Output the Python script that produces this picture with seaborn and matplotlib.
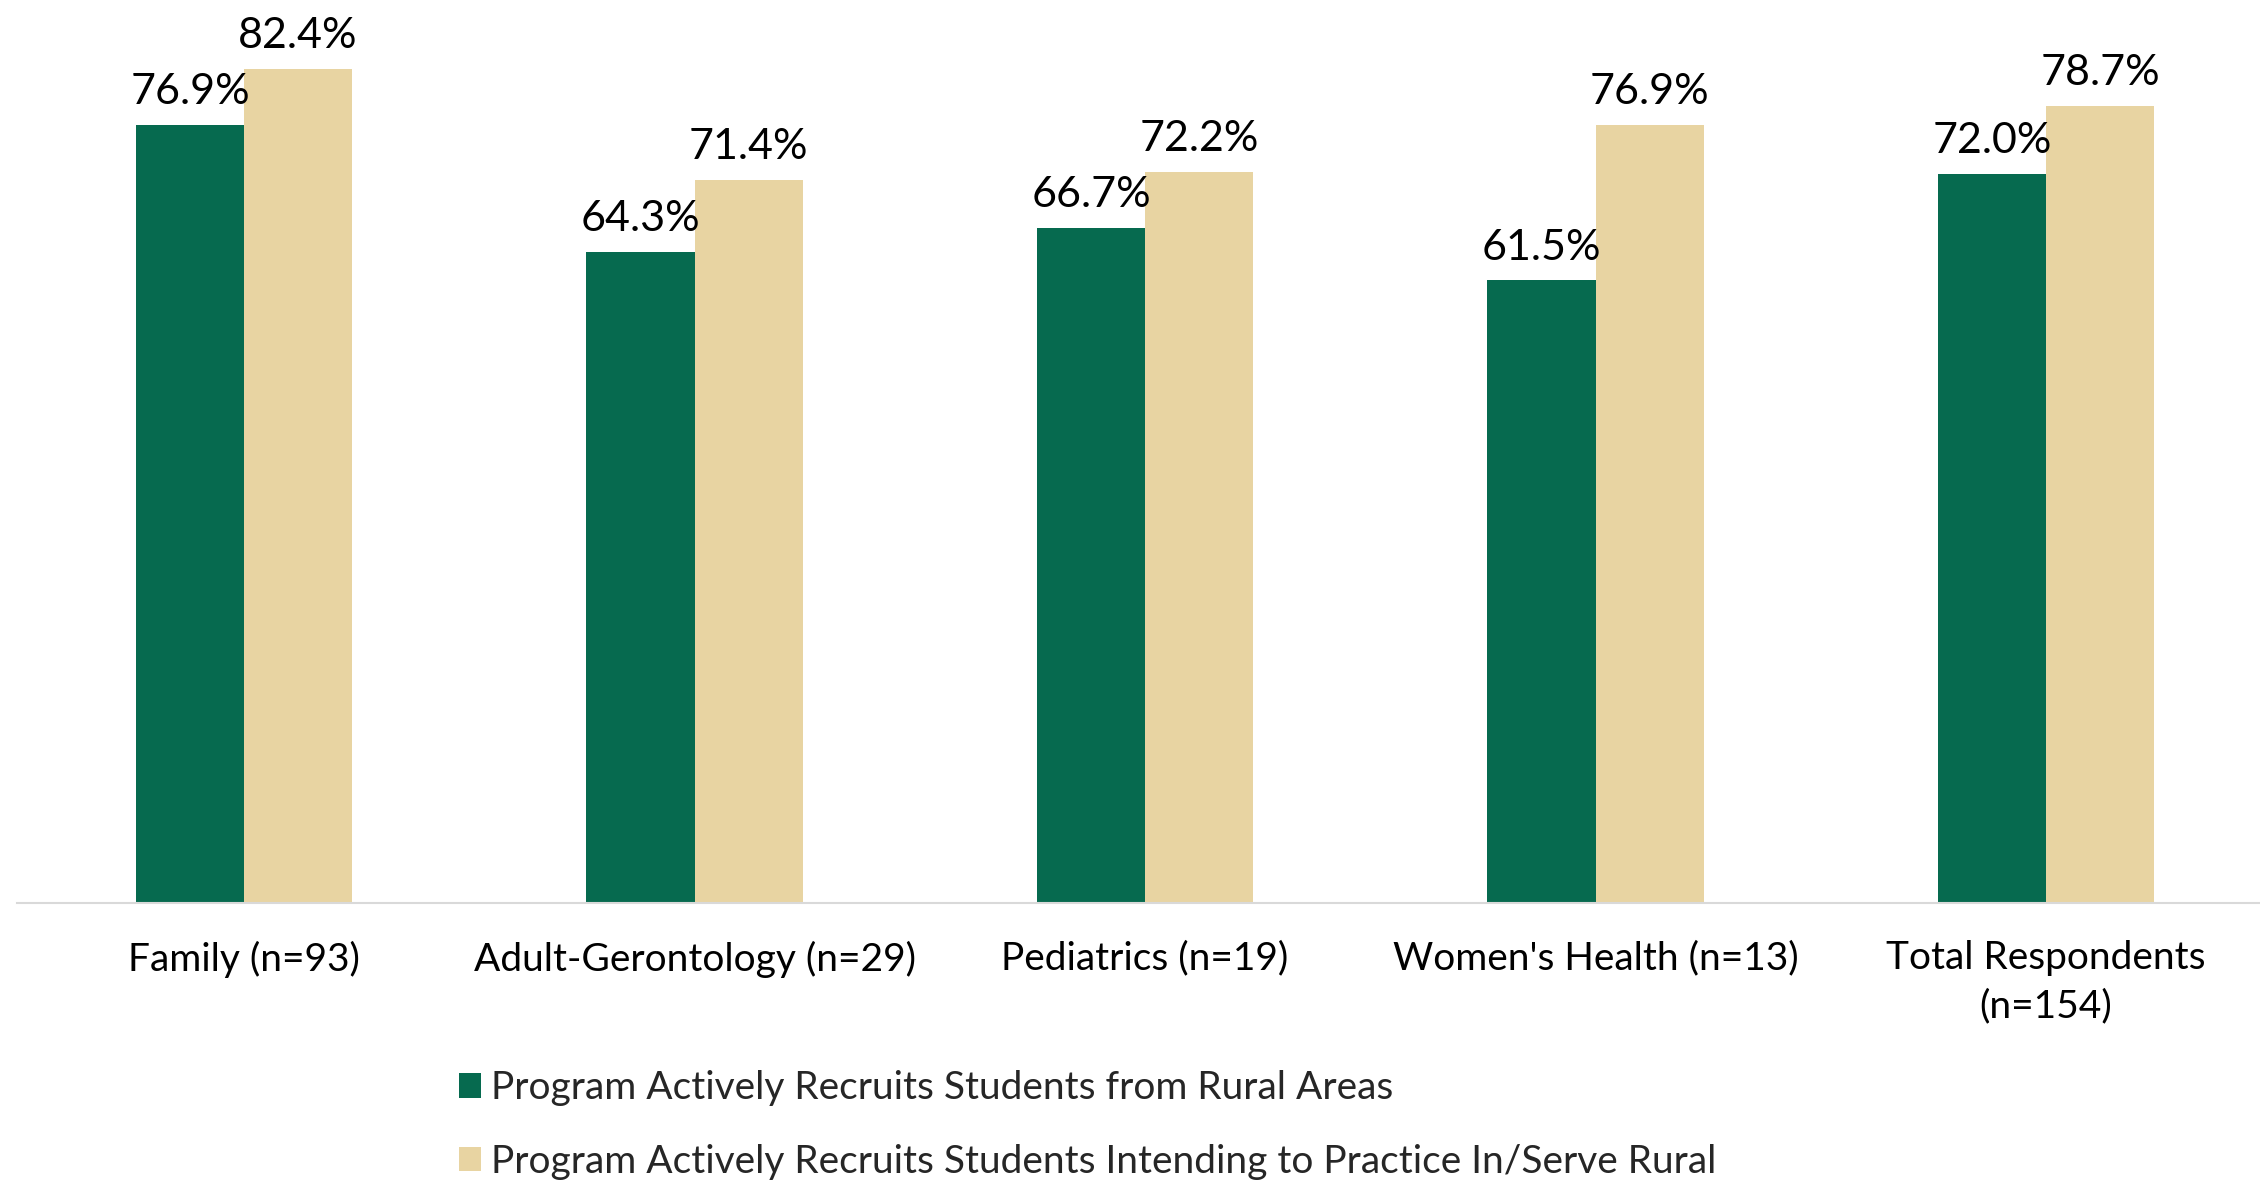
import pandas as pd
import seaborn as sns
from matplotlib import pyplot as plt
from matplotlib.patches import Patch

# Data
categories = [
    "Family (n=93)",
    "Adult-Gerontology (n=29)",
    "Pediatrics (n=19)",
    "Women's Health (n=13)",
    "Total Respondents\n(n=154)",
]
series_names = [
    "Program Actively Recruits Students from Rural Areas",
    "Program Actively Recruits Students Intending to Practice In/Serve Rural",
]
rural_areas = [76.9, 64.3, 66.7, 61.5, 72.0]
serve_rural = [82.4, 71.4, 72.2, 76.9, 78.7]
colors = ["#066A4F", "#E8D4A2"]

df = pd.DataFrame({
    "category": categories * 2,
    "series": [series_names[0]] * 5 + [series_names[1]] * 5,
    "value": rural_areas + serve_rural,
})

sns.set_style("white")
plt.rcParams["font.family"] = ["Lato", "DejaVu Sans"]

fig = plt.figure(figsize=(22.6, 11.82), dpi=100)
ax = fig.add_axes([17 / 2260, 1 - 903 / 1182, 1 - 17 / 2260, 903 / 1182])

sns.barplot(
    data=df, x="category", y="value", hue="series",
    palette=colors, width=0.48, gap=0, saturation=1,
    edgecolor="none", linewidth=0, ax=ax, legend=False,
)

for container in ax.containers:
    ax.bar_label(container, fmt="%.1f%%", padding=10, fontsize=31, color="black")

ax.set_xlim(-0.504, 4.475)
ax.set_ylim(0, 89.2)
ax.set_xlabel("")
ax.set_ylabel("")
ax.set_yticks([])
ax.tick_params(axis="x", length=0, pad=27, labelsize=28, labelcolor="black")
for lbl in ax.get_xticklabels():
    lbl.set_linespacing(1.4)

for side in ["left", "right", "top"]:
    ax.spines[side].set_visible(False)
ax.spines["bottom"].set_color("#D9D9D9")
ax.spines["bottom"].set_linewidth(1.5)

handles = [Patch(facecolor=c, edgecolor="none") for c in colors]
fig.legend(
    handles, series_names,
    loc="upper left", bbox_to_anchor=(459 / 2260, 1 - 1070 / 1182),
    frameon=False, fontsize=28, borderpad=0, borderaxespad=0,
    handlelength=0.57, handleheight=0.6, handletextpad=0.25,
    labelspacing=0.97,
)

plt.savefig("out.png", dpi=100)
